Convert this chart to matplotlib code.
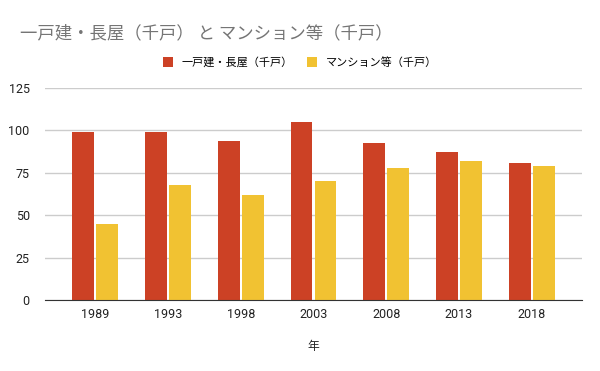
import numpy as np
import matplotlib
matplotlib.use("Agg")
from matplotlib import pyplot as plt

plt.rcParams['font.family'] = ['Noto Sans CJK JP', 'DejaVu Sans']

years = ["1989", "1993", "1998", "2003", "2008", "2013", "2018"]
detached = [99, 99, 94, 105, 92.5, 87, 81]      # 一戸建・長屋（千戸）
mansion = [45, 68, 62, 70, 78, 82, 79]          # マンション等（千戸）

red = "#cc4125"
yellow = "#f1c232"

fig = plt.figure(figsize=(6, 3.71), dpi=100)
ax = fig.add_axes([0.075, 0.191, 0.895, 0.572])

x = np.arange(len(years))
w = 0.30
ax.bar(x - w / 2 - 0.014, detached, width=w, color=red, label="一戸建・長屋（千戸）", zorder=3)
ax.bar(x + w / 2 + 0.014, mansion, width=w, color=yellow, label="マンション等（千戸）", zorder=3)

ax.set_xlim(-0.69, len(years) - 1 + 0.69)
ax.set_ylim(0, 125)
ax.set_yticks([0, 25, 50, 75, 100, 125])
ax.set_xticks(x)
ax.set_xticklabels(years)
for lab in ax.get_xticklabels() + ax.get_yticklabels():
    lab.set_family(['Roboto', 'DejaVu Sans'])
ax.yaxis.grid(True, color="#cccccc", linewidth=1, zorder=0)
for s in ["top", "right", "left"]:
    ax.spines[s].set_visible(False)
ax.spines["bottom"].set_color("#333333")
ax.spines["bottom"].set_zorder(4)
ax.tick_params(axis="both", length=0, labelsize=9, colors="#222222")
ax.tick_params(axis="x", pad=6)
ax.tick_params(axis="y", pad=11)
ax.set_xlabel("年", fontsize=8.5, color="#222222", labelpad=13)

fig.text(0.033, 0.91, "一戸建・長屋（千戸） と マンション等（千戸）", fontsize=12.5,
         color="#757575", va="center")
fig.legend(loc="center", bbox_to_anchor=(0.5, 0.832), ncol=2, frameon=False,
           fontsize=8, handlelength=0.9, handleheight=0.9, columnspacing=1.3,
           handletextpad=0.8)

fig.savefig("out.png", dpi=100)
